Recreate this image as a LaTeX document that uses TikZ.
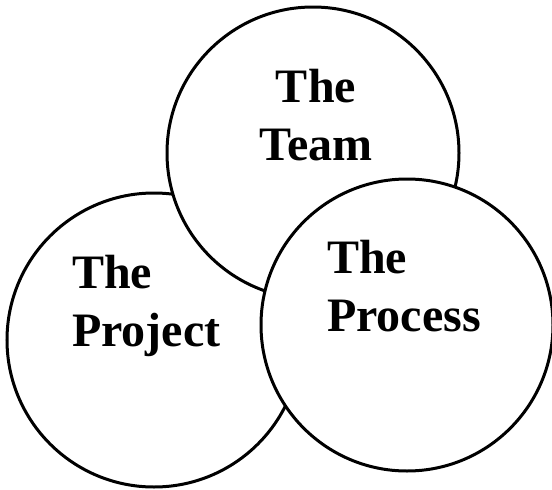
\documentclass[tikz,border=0pt]{standalone}
\usepackage{fontspec}
\setmainfont{Liberation Serif}
\begin{document}
\begin{tikzpicture}[x=1pt,y=-1pt,
  ring/.style={draw=black,fill=white,line width=3pt},
  label/.style={inner sep=0pt,font=\bfseries\fontsize{48}{58}\selectfont}]
\useasboundingbox (0,0) rectangle (552,490);
\draw[ring] (154,340) circle[radius=147] coordinate (projectc);
\draw[ring] (313,153) circle[radius=146] coordinate (teamc);
\draw[ring] (407,325) circle[radius=146] coordinate (processc);
\node[label,align=center,anchor=base] (team) at (316,160) {The\\Team};
\node[label,align=left,anchor=base west] (project) at (72,346) {The\\Project};
\node[label,align=left,anchor=base west] (process) at (327,331) {The\\Process};
\end{tikzpicture}
\end{document}
